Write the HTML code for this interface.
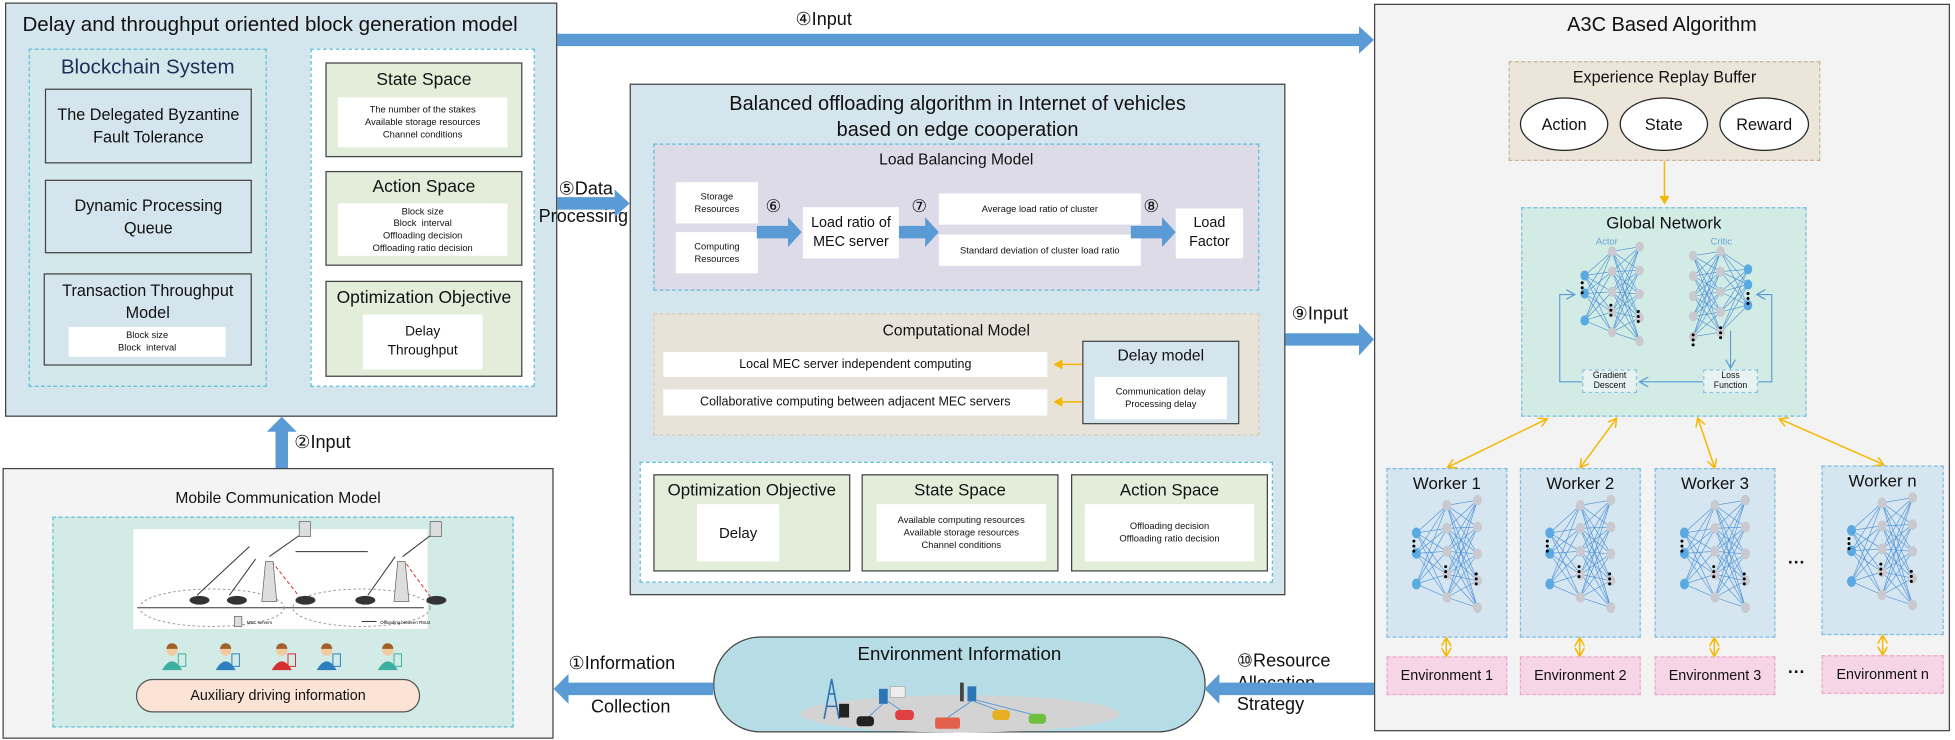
<!DOCTYPE html>
<html><head><meta charset="utf-8"><style>
html,body{margin:0;padding:0;background:#fff;width:1955px;height:740px;overflow:hidden}
#w{position:absolute;left:0;top:0;width:1568px;height:593px;transform:scale(1.2468,1.2479);transform-origin:0 0;font-family:"Liberation Sans",sans-serif;color:#111}
.a{position:absolute;box-sizing:border-box}
.solid{border:1.3px solid #444}
.dash{border:1.2px dashed #5fbfd6}
.grn{background:#e2edda;border:1.3px solid #444}
.wh{background:#fff}
.c{display:flex;align-items:center;justify-content:center;text-align:center}
.t{position:absolute;white-space:nowrap;line-height:1.15}
.sm{font-size:7.5px;line-height:1.3}
</style></head><body><div id="w">

<!-- top-left box -->
<div class="a solid" style="left:4px;top:2px;width:443px;height:332px;background:#d5e5ee"></div>
<div class="t" style="left:18px;top:11px;font-size:16.5px">Delay and throughput oriented block generation model</div>
<div class="a dash" style="left:23px;top:39px;width:191px;height:271px;background:#d3e8ea"></div>
<div class="t" style="left:23px;width:191px;text-align:center;top:45px;font-size:16.5px;color:#1f2f5a">Blockchain System</div>
<div class="a solid c" style="left:36px;top:71px;width:166px;height:60px;background:#d5e5ee;font-size:13px;line-height:1.35">The Delegated Byzantine<br>Fault Tolerance</div>
<div class="a solid c" style="left:36px;top:144px;width:166px;height:59px;background:#d5e5ee;font-size:13px;line-height:1.35">Dynamic Processing<br>Queue</div>
<div class="a solid" style="left:35px;top:219px;width:167px;height:74px;background:#d5e5ee"></div>
<div class="t" style="left:35px;width:167px;text-align:center;top:224px;font-size:13px;line-height:1.35">Transaction Throughput<br>Model</div>
<div class="a wh c sm" style="left:55px;top:262px;width:126px;height:24px">Block size<br>Block &nbsp;interval</div>

<div class="a dash" style="left:249px;top:39px;width:180px;height:271px;background:#fff"></div>
<div class="a grn" style="left:261px;top:50px;width:158px;height:76px"></div>
<div class="t" style="left:261px;width:158px;text-align:center;top:55px;font-size:14px">State Space</div>
<div class="a wh c sm" style="left:271px;top:78px;width:136px;height:40px">The number of the stakes<br>Available storage resources<br>Channel conditions</div>
<div class="a grn" style="left:261px;top:137px;width:158px;height:76px"></div>
<div class="t" style="left:261px;width:158px;text-align:center;top:141px;font-size:14px">Action Space</div>
<div class="a wh c sm" style="left:271px;top:163px;width:136px;height:42px">Block size<br>Block &nbsp;interval<br>Offloading decision<br>Offloading ratio decision</div>
<div class="a grn" style="left:261px;top:225px;width:158px;height:77px"></div>
<div class="t" style="left:261px;width:158px;text-align:center;top:230px;font-size:14px">Optimization Objective</div>
<div class="a wh c" style="left:291px;top:252px;width:96px;height:44px;font-size:11px;line-height:1.4">Delay<br>Throughput</div>

<!-- balanced box -->
<div class="a solid" style="left:505px;top:67px;width:526px;height:410px;background:#d5e5ee"></div>
<div class="t" style="left:505px;width:526px;text-align:center;top:74px;font-size:16px;line-height:1.3">Balanced offloading algorithm in Internet of vehicles<br>based on edge cooperation</div>
<div class="a dash" style="left:524px;top:115px;width:486px;height:118px;background:#dedbe9"></div>
<div class="t" style="left:524px;width:486px;text-align:center;top:121px;font-size:12.5px">Load Balancing Model</div>
<div class="a wh c sm" style="left:542px;top:146px;width:66px;height:33px">Storage<br>Resources</div>
<div class="a wh c sm" style="left:542px;top:186px;width:66px;height:33px">Computing<br>Resources</div>
<div class="t" style="left:614px;top:159px;font-size:14px;font-family:'Liberation Serif',serif">⑥</div>
<div class="a wh c" style="left:644px;top:166px;width:77px;height:41px;font-size:11.5px;line-height:1.3">Load ratio of<br>MEC server</div>
<div class="t" style="left:731px;top:159px;font-size:14px;font-family:'Liberation Serif',serif">⑦</div>
<div class="a wh c sm" style="left:753px;top:155px;width:162px;height:25px">Average load ratio of cluster</div>
<div class="a wh c sm" style="left:753px;top:188px;width:162px;height:25px">Standard deviation of cluster load ratio</div>
<div class="t" style="left:917px;top:159px;font-size:14px;font-family:'Liberation Serif',serif">⑧</div>
<div class="a wh c" style="left:943px;top:167px;width:54px;height:40px;font-size:11.5px;line-height:1.3">Load<br>Factor</div>

<div class="a" style="left:524px;top:251px;width:486px;height:98px;background:#e8e3d9;border:1.2px dashed #d6cdb8"></div>
<div class="t" style="left:524px;width:486px;text-align:center;top:258px;font-size:12.5px">Computational Model</div>
<div class="a wh c" style="left:532px;top:282px;width:308px;height:20px;font-size:10px">Local MEC server independent computing</div>
<div class="a wh c" style="left:532px;top:312px;width:308px;height:21px;font-size:10px">Collaborative computing between adjacent MEC servers</div>
<div class="a solid" style="left:868px;top:273px;width:126px;height:67px;background:#d5e5ee"></div>
<div class="t" style="left:868px;width:126px;text-align:center;top:278px;font-size:12.5px">Delay model</div>
<div class="a wh c sm" style="left:878px;top:302px;width:106px;height:34px">Communication delay<br>Processing delay</div>

<div class="a dash" style="left:513px;top:370px;width:508px;height:97px;background:#fff"></div>
<div class="a grn" style="left:524px;top:380px;width:158px;height:78px"></div>
<div class="t" style="left:524px;width:158px;text-align:center;top:385px;font-size:13.5px">Optimization Objective</div>
<div class="a wh c" style="left:559px;top:404px;width:66px;height:46px;font-size:12px">Delay</div>
<div class="a grn" style="left:691px;top:380px;width:158px;height:78px"></div>
<div class="t" style="left:691px;width:158px;text-align:center;top:385px;font-size:13.5px">State Space</div>
<div class="a wh c sm" style="left:703px;top:404px;width:136px;height:46px">Available computing resources<br>Available storage resources<br>Channel conditions</div>
<div class="a grn" style="left:859px;top:380px;width:158px;height:78px"></div>
<div class="t" style="left:859px;width:158px;text-align:center;top:385px;font-size:13.5px">Action Space</div>
<div class="a wh c sm" style="left:870px;top:404px;width:136px;height:46px">Offloading decision<br>Offloading ratio decision</div>

<!-- mobile box -->
<div class="a solid" style="left:2px;top:375px;width:442px;height:217px;background:#f4f4f4"></div>
<div class="t" style="left:2px;width:442px;text-align:center;top:392px;font-size:12.5px">Mobile Communication Model</div>
<div class="a dash" style="left:42px;top:414px;width:370px;height:169px;background:#d3ebe6"></div>
<div class="a wh" style="left:107px;top:424px;width:236px;height:80px"></div>
<div class="a c" style="left:109px;top:544px;width:228px;height:27px;background:#fbe3d6;border:1.2px solid #555;border-radius:14px;font-size:11.5px">Auxiliary driving information</div>

<!-- environment pill -->
<div class="a" style="left:572px;top:510px;width:395px;height:77px;background:#b6dde6;border:1.3px solid #444;border-radius:38px"></div>
<div class="t" style="left:572px;width:395px;text-align:center;top:516px;font-size:15px">Environment Information</div>

<!-- A3C -->
<div class="a solid" style="left:1102px;top:3px;width:462px;height:583px;background:#f3f3f3"></div>
<div class="t" style="left:1102px;width:462px;text-align:center;top:12px;font-size:16px">A3C Based Algorithm</div>
<div class="a" style="left:1210px;top:49px;width:250px;height:80px;background:#ebe5da;border:1.3px dashed #c9b595"></div>
<div class="t" style="left:1210px;width:250px;text-align:center;top:55px;font-size:13px">Experience Replay Buffer</div>
<div class="a c" style="left:1219px;top:78px;width:71px;height:43px;border:1.3px solid #222;border-radius:50%;background:#fff;font-size:13px">Action</div>
<div class="a c" style="left:1299px;top:78px;width:71px;height:43px;border:1.3px solid #222;border-radius:50%;background:#fff;font-size:13px">State</div>
<div class="a c" style="left:1379px;top:78px;width:72px;height:43px;border:1.3px solid #222;border-radius:50%;background:#fff;font-size:13px">Reward</div>
<div class="a" style="left:1220px;top:166px;width:229px;height:168px;background:#d2ebe5;border:1.2px dashed #7fbde0"></div>
<div class="t" style="left:1220px;width:229px;text-align:center;top:171px;font-size:13.5px">Global Network</div>
<div class="t" style="left:1280px;top:190px;font-size:7.5px;color:#6aa5d5">Actor</div>
<div class="t" style="left:1372px;top:190px;font-size:7.5px;color:#6aa5d5">Critic</div>
<div class="a c" style="left:1269px;top:296px;width:44px;height:19px;background:#e6f3f1;border:1px dashed #8fc4e0;font-size:7px;line-height:1.1">Gradient<br>Descent</div>
<div class="a c" style="left:1366px;top:296px;width:44px;height:19px;background:#e6f3f1;border:1px dashed #8fc4e0;font-size:7px;line-height:1.1">Loss<br>Function</div>

<div class="a" style="left:1112px;top:375px;width:97px;height:136px;background:#d5e6f0;border:1.2px dashed #7fbde0"></div>
<div class="a" style="left:1219px;top:375px;width:97px;height:136px;background:#d5e6f0;border:1.2px dashed #7fbde0"></div>
<div class="a" style="left:1327px;top:375px;width:97px;height:136px;background:#d5e6f0;border:1.2px dashed #7fbde0"></div>
<div class="a" style="left:1461px;top:373px;width:98px;height:136px;background:#d5e6f0;border:1.2px dashed #7fbde0"></div>
<div class="t" style="left:1112px;width:97px;text-align:center;top:380px;font-size:13.5px">Worker 1</div>
<div class="t" style="left:1219px;width:97px;text-align:center;top:380px;font-size:13.5px">Worker 2</div>
<div class="t" style="left:1327px;width:97px;text-align:center;top:380px;font-size:13.5px">Worker 3</div>
<div class="t" style="left:1461px;width:98px;text-align:center;top:378px;font-size:13.5px">Worker n</div>
<div class="a c" style="left:1112px;top:526px;width:97px;height:31px;background:#f6d6e6;border:1.2px dashed #e8a9c9;font-size:11.5px">Environment 1</div>
<div class="a c" style="left:1219px;top:526px;width:97px;height:31px;background:#f6d6e6;border:1.2px dashed #e8a9c9;font-size:11.5px">Environment 2</div>
<div class="a c" style="left:1327px;top:526px;width:97px;height:31px;background:#f6d6e6;border:1.2px dashed #e8a9c9;font-size:11.5px">Environment 3</div>
<div class="a c" style="left:1461px;top:525px;width:98px;height:31px;background:#f6d6e6;border:1.2px dashed #e8a9c9;font-size:11.5px">Environment n</div>
<div class="t" style="left:1434px;top:442px;font-size:14px;font-weight:bold">···</div>
<div class="t" style="left:1434px;top:530px;font-size:14px;font-weight:bold">···</div>

<!-- arrow labels -->
<div class="t" style="left:638px;top:8px;font-size:14.5px">④Input</div>
<div class="t" style="left:448px;top:144px;font-size:14.5px">⑤Data</div>
<div class="t" style="left:432px;top:166px;font-size:14.5px">Processing</div>
<div class="t" style="left:1036px;top:244px;font-size:14.5px">⑨Input</div>
<div class="t" style="left:236px;top:347px;font-size:14.5px">②Input</div>
<div class="t" style="left:456px;top:524px;font-size:14.5px">①Information</div>
<div class="t" style="left:474px;top:559px;font-size:14.5px">Collection</div>
<div class="t" style="left:992px;top:522px;font-size:14.5px;line-height:1.22">⑩Resource<br>Allocation<br>Strategy</div>

<svg id="s" class="a" style="left:0;top:0" width="1568" height="593" viewBox="0 0 1568 593">
<defs>
<marker id="ya" markerWidth="8" markerHeight="8" refX="6" refY="4" orient="auto-start-reverse" markerUnits="userSpaceOnUse"><path d="M0,0 L7,4 L0,8" fill="none" stroke="#f5b700" stroke-width="1.2"/></marker>
<marker id="yb" markerWidth="8" markerHeight="8" refX="6" refY="4" orient="auto" markerUnits="userSpaceOnUse"><path d="M0,0 L7,4 L0,8 z" fill="#f5b700"/></marker>
<marker id="ba" markerWidth="8" markerHeight="8" refX="6" refY="4" orient="auto" markerUnits="userSpaceOnUse"><path d="M0,0 L7,4 L0,8" fill="none" stroke="#5b9bd5" stroke-width="1"/></marker>
</defs>
<g fill="#5b9bd5">
<polygon points="447,27 1090,27 1090,21 1102,32 1090,43 1090,37 447,37"/>
<polygon points="447,158 493,158 493,152 505,163 493,174 493,168 447,168"/>
<polygon points="607,181 632,181 632,174 643,186 632,198 632,191 607,191"/>
<polygon points="721,181 742,181 742,174 753,186 742,198 742,191 721,191"/>
<polygon points="907,181 932,181 932,174 943,186 932,198 932,191 907,191"/>
<polygon points="1031,267 1090,267 1090,259 1102,272 1090,285 1090,277 1031,277"/>
<polygon points="221,375 221,346 214,346 226,334 238,346 231,346 231,375"/>
<polygon points="572,547 456,547 456,540 444,552 456,564 456,557 572,557"/>
<polygon points="1102,547 978,547 978,540 966,552 978,564 978,557 1102,557"/>
</g>
<g stroke="#f5b700" stroke-width="1.2" fill="none">
<line x1="868" y1="292" x2="846" y2="292" marker-end="url(#yb)"/>
<line x1="868" y1="322" x2="846" y2="322" marker-end="url(#yb)"/>
<line x1="1335" y1="129" x2="1335" y2="163" marker-end="url(#yb)"/>
<line x1="1240" y1="336" x2="1162" y2="374" marker-start="url(#ya)" marker-end="url(#ya)"/>
<line x1="1296" y1="336" x2="1268" y2="374" marker-start="url(#ya)" marker-end="url(#ya)"/>
<line x1="1362" y1="336" x2="1375" y2="374" marker-start="url(#ya)" marker-end="url(#ya)"/>
<line x1="1428" y1="336" x2="1510" y2="372" marker-start="url(#ya)" marker-end="url(#ya)"/>
<line x1="1160" y1="512" x2="1160" y2="525" marker-start="url(#ya)" marker-end="url(#ya)"/>
<line x1="1267" y1="512" x2="1267" y2="525" marker-start="url(#ya)" marker-end="url(#ya)"/>
<line x1="1375" y1="512" x2="1375" y2="525" marker-start="url(#ya)" marker-end="url(#ya)"/>
<line x1="1510" y1="510" x2="1510" y2="524" marker-start="url(#ya)" marker-end="url(#ya)"/>
</g>
<g stroke="#5b9bd5" stroke-width="0.9" fill="none">
<polyline points="1269,306 1251,306 1251,236 1262,236" marker-end="url(#ba)"/>
<polyline points="1410,306 1421,306 1421,236 1410,236" marker-end="url(#ba)"/>
<line x1="1388" y1="265" x2="1388" y2="294" marker-end="url(#ba)"/>
<line x1="1366" y1="306" x2="1316" y2="306" marker-end="url(#ba)"/>
</g>
<!-- mobile picture -->
<g stroke="#333" fill="none" stroke-width="0.8">
<line x1="110" y1="487" x2="340" y2="487"/>
<ellipse cx="170" cy="487" rx="58" ry="15" stroke="#999" stroke-dasharray="2,2"/>
<ellipse cx="290" cy="487" rx="55" ry="15" stroke="#999" stroke-dasharray="2,2"/>
<line x1="158" y1="477" x2="200" y2="438"/><line x1="184" y1="477" x2="205" y2="448"/>
<line x1="295" y1="477" x2="317" y2="446"/>
<line x1="237" y1="442" x2="295" y2="442"/>
<line x1="216" y1="446" x2="243" y2="427"/><line x1="323" y1="446" x2="348" y2="427"/>
<line x1="218" y1="450" x2="240" y2="478" stroke="#d33" stroke-dasharray="3,2"/>
<line x1="326" y1="452" x2="345" y2="478" stroke="#d33" stroke-dasharray="3,2"/>
<line x1="290" y1="498" x2="302" y2="498"/>
</g>
<g fill="#ddd" stroke="#666" stroke-width="0.6">
<path d="M210,482 L213,450 L219,450 L222,482 z"/><path d="M316,482 L319,450 L325,450 L328,482 z"/>
<rect x="240" y="418" width="9" height="12"/><rect x="345" y="418" width="9" height="12"/>
<rect x="188" y="494" width="6" height="8"/>
</g>
<g fill="#333"><ellipse cx="160" cy="481" rx="8" ry="3.5"/><ellipse cx="190" cy="481" rx="8" ry="3.5"/><ellipse cx="245" cy="481" rx="8" ry="3.5"/><ellipse cx="293" cy="481" rx="8" ry="3.5"/><ellipse cx="350" cy="481" rx="8" ry="3.5"/></g>
<text x="198" y="500" font-size="3.5" font-family="Liberation Sans">MEC servers</text>
<text x="305" y="500" font-size="3.5" font-family="Liberation Sans">Offloading between RSUs</text>
<!-- people -->
<g id="ppl"></g>
<!-- env picture -->
<ellipse cx="770" cy="572" rx="128" ry="15" fill="#d3d3d3"/>
<g stroke="#2e75b6" stroke-width="1.3" fill="none"><path d="M661,576 L667,544 L673,576 M663,566 L671,566 M665,556 L670,556"/></g>
<rect x="673" y="564" width="8" height="11" fill="#222"/>
<rect x="705" y="552" width="7" height="12" fill="#2e75b6"/><rect x="714" y="550" width="12" height="9" fill="#eee" stroke="#999" stroke-width="0.5"/>
<rect x="770" y="547" width="3" height="15" fill="#444"/><rect x="776" y="550" width="7" height="12" fill="#2e75b6"/>
<g stroke="#5b9bd5" stroke-width="0.8"><line x1="708" y1="564" x2="694" y2="577"/><line x1="712" y1="562" x2="724" y2="570"/><line x1="779" y1="562" x2="760" y2="575"/><line x1="781" y1="562" x2="800" y2="569"/><line x1="783" y1="561" x2="830" y2="573"/></g>
<rect x="687" y="574" width="14" height="8" rx="3" fill="#222"/>
<rect x="718" y="569" width="15" height="8" rx="3" fill="#e04040"/>
<rect x="750" y="575" width="20" height="9" rx="2" fill="#e2604a"/>
<rect x="796" y="569" width="14" height="8" rx="3" fill="#e8b020"/>
<rect x="825" y="572" width="14" height="8" rx="3" fill="#6fbf3f"/>
<g id="nets"></g>
</svg>
</div>
<script>
var NS="http://www.w3.org/2000/svg";
function el(p,n,a){var e=document.createElementNS(NS,n);for(var k in a)e.setAttribute(k,a[k]);p.appendChild(e);return e;}
var g=document.getElementById('nets');
function col(x,y,h,n){var r=[];for(var i=0;i<n;i++)r.push([x,y+h*i/(n-1)]);return r;}
function net(x,y,w,h,mir,r){
 var inp=mir?col(x,y,h*0.9,5):[[x,y+h*0.22],[x,y+h*0.42],[x,y+h*0.72]];
 var hid=col(x+w/2,y-h*0.05,h*0.9,5);
 var out=mir?[[x+w,y+h*0.15],[x+w,y+h*0.32],[x+w,y+h*0.55]]:col(x+w,y-h*0.1,h*1.05,5);
 [[inp,hid],[hid,out]].forEach(function(p){p[0].forEach(function(a){p[1].forEach(function(b){el(g,'line',{x1:a[0],y1:a[1],x2:b[0],y2:b[1],stroke:'#4a8fd6','stroke-width':0.5});});});});
 function dr(L,blue){L.forEach(function(a){el(g,'ellipse',{cx:a[0],cy:a[1],rx:r,ry:r*1.2,fill:blue?'#5aaae2':'#c9c9cf'});});}
 dr(inp,!mir);dr(hid,false);dr(out,mir);
 function dots(x0,y0){for(var i=0;i<3;i++)el(g,'circle',{cx:x0,cy:y0+i*4,r:1.2,fill:'#000'});}
 if(!mir){dots(x-2,y+h*0.3);dots(x+w/2-1,y+h*0.55);dots(x+w-1,y+h*0.62);}
 else{dots(x,y+h*0.88);dots(x+w/2,y+h*0.8);dots(x+w,y+h*0.42);}
}
net(1136,409,49,82,false,3.6);net(1243,409,49,82,false,3.6);net(1351,409,49,82,false,3.6);net(1485,407,49,82,false,3.6);
net(1271,205,44,72,false,3.4);net(1358,205,44,72,true,3.4);
var p=document.getElementById('ppl');
[[138,'#3cb0a0'],[181,'#2e7fc0'],[226,'#d43030'],[262,'#2e7fc0'],[311,'#3cb0a0']].forEach(function(q){
 el(p,'circle',{cx:q[0],cy:521,r:4.5,fill:'#f3c9a0'});
 el(p,'path',{d:'M'+(q[0]-4.5)+',520 a4.5,4.5 0 0 1 9,0 z',fill:'#a0602a'});
 el(p,'path',{d:'M'+(q[0]-8)+',537 Q'+q[0]+',523 '+(q[0]+8)+',537 z',fill:q[1]});
 el(p,'rect',{x:q[0]+5,y:524,width:6,height:10,fill:'none',stroke:q[1],'stroke-width':0.8});
});
</script>
</body></html>
